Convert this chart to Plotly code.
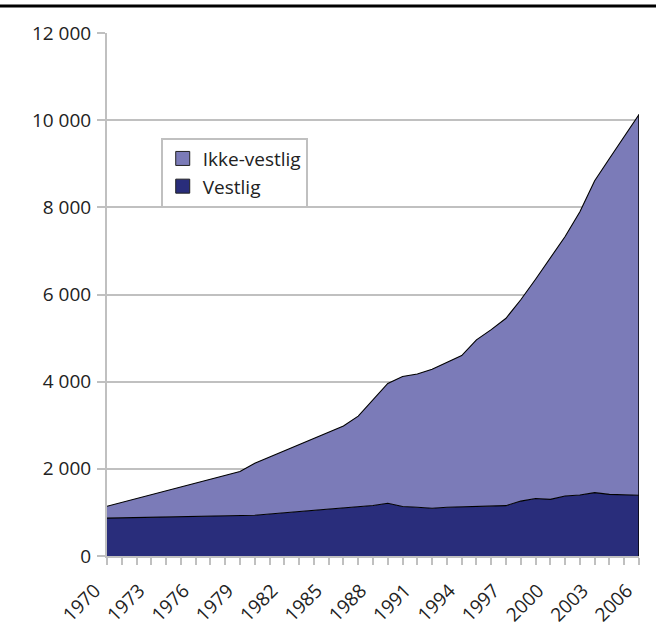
import plotly.graph_objects as go

years = list(range(1970, 2007))
vestlig = [870, 875, 880, 885, 890, 895, 900, 905, 910, 915,
           935, 965, 995, 1025, 1055, 1085, 1115, 1130, 1160, 1210,
           1135, 1120, 1095, 1120, 1130, 1140, 1145, 1155, 1260, 1320,
           1300, 1375, 1400, 1455, 1415, 1400, 1395]
ikke_vestlig = [270, 355, 440, 515, 600, 685, 770, 855, 940, 1025,
                1195, 1305, 1415, 1535, 1645, 1755, 1870, 2080, 2430, 2750,
                2985, 3055, 3190, 3325, 3470, 3820, 4050, 4300, 4620, 5030,
                5550, 5955, 6500, 7155, 7705, 8230, 8735]
x_tick_years = list(range(1970, 2007, 3))
x_tick_text = [str(y) for y in x_tick_years]
y_tick_vals = [0, 2000, 4000, 6000, 8000, 10000, 12000]
y_tick_text = ["0", "2 000", "4 000", "6 000", "8 000", "10 000", "12 000"]

series_names = ["Vestlig", "Ikke-vestlig"]
series_colors = ["#292d7b", "#7b7bb8"]

font_family = "Open Sans"
grid = "#c0c0c0"

fig = go.Figure()
for name, vals, col in zip(series_names, [vestlig, ikke_vestlig], series_colors):
    fig.add_trace(go.Scatter(
        x=years, y=vals, name=name, stackgroup="one", mode="lines",
        line=dict(color="black", width=1.1), fillcolor=col, showlegend=False,
        hoverinfo="skip",
    ))
# legend entries with square swatches
for name, col in zip(series_names, series_colors):
    fig.add_trace(go.Scatter(
        x=[None], y=[None], name=name, mode="markers",
        marker=dict(symbol="square", size=14, color=col, line=dict(color="#222222", width=1)),
        showlegend=True,
    ))

total_last = vestlig[-1] + ikke_vestlig[-1]
fig.add_shape(type="line", xref="x", yref="y", x0=years[-1], x1=years[-1],
              y0=0, y1=total_last, line=dict(color="black", width=1.5), layer="above")
# top rule
fig.add_shape(type="line", xref="paper", yref="paper", x0=-0.25, x1=1.1,
              y0=1.0516, y1=1.0516, line=dict(color="black", width=3))

fig.update_layout(
    width=656, height=632,
    margin=dict(l=107, r=17, t=33, b=76),
    paper_bgcolor="white", plot_bgcolor="white",
    font=dict(family=font_family, size=19, color="#222222"),
    showlegend=True,
    legend=dict(
        x=0.101, y=0.80, xanchor="left", yanchor="top",
        bgcolor="white", bordercolor=grid, borderwidth=2,
        traceorder="reversed", font=dict(size=19, family=font_family),
    ),
    xaxis=dict(
        range=[1970, 2006], tickmode="array", tickvals=x_tick_years,
        ticktext=x_tick_text, tickangle=-45,
        showgrid=False, showline=True, linecolor=grid, linewidth=2,
        ticks="outside", ticklen=7, tickwidth=2, tickcolor=grid,
        minor=dict(dtick=1, tick0=1970, ticks="outside", ticklen=7, tickwidth=2,
                   tickcolor=grid, showgrid=False),
        zeroline=False, tickfont=dict(size=19), automargin=False,
        ticklabelstandoff=7, ticklabelshift=-12,
    ),
    yaxis=dict(
        range=[0, 12000], tickmode="array", tickvals=y_tick_vals, ticktext=y_tick_text,
        showgrid=True, gridcolor=grid, gridwidth=2,
        showline=True, linecolor=grid, linewidth=2,
        ticks="outside", ticklen=8, tickwidth=2, tickcolor=grid,
        zeroline=False, tickfont=dict(size=19), automargin=False,
        ticklabelstandoff=2,
    ),
)

fig.write_html("out.html", config={"displayModeBar": False},
               post_script="document.body.style.margin='0';")
